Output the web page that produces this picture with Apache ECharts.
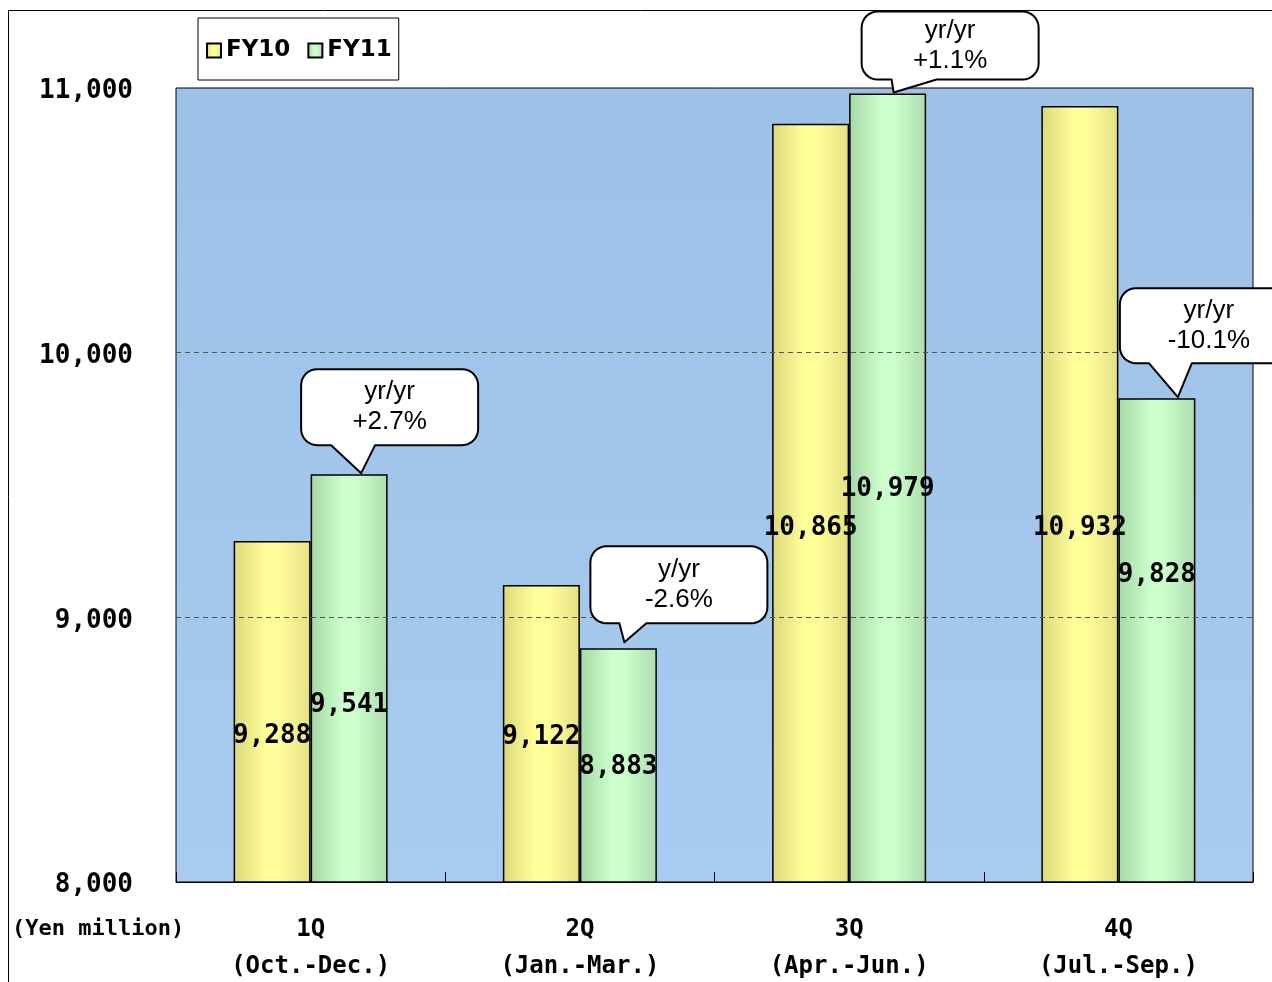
<!DOCTYPE html>
<html>
<head>
<meta charset="utf-8">
<script src="https://cdn.jsdelivr.net/npm/echarts@6/dist/echarts.min.js"></script>
<style>
  html, body { margin: 0; padding: 0; background: #fff; }
  #chart { width: 1272px; height: 982px; }
</style>
</head>
<body>
<div id="chart"></div>
<script>
// Quarterly net sales, FY10 vs FY11 (Yen million)
const categories = ['1Q\n(Oct.-Dec.)', '2Q\n(Jan.-Mar.)', '3Q\n(Apr.-Jun.)', '4Q\n(Jul.-Sep.)'];
const seriesNames = ['FY10', 'FY11'];
const fy10 = [9288, 9122, 10865, 10932];
const fy11 = [9541, 8883, 10979, 9828];
const yoyNotes = ['yr/yr\n+2.7%', 'y/yr\n-2.6%', 'yr/yr\n+1.1%', 'yr/yr\n-10.1%'];
const yMin = 8000, yMax = 11000, yStep = 1000;
const guideValues = [9000, 10000];

// Layout: axis level at which each value label sits
const fy10LabelLevel = [8555, 8548, 9341, 9341];
const fy11LabelLevel = [8672, 8438, 9488, 9163];

// Layout: callout boxes relative to the top centre of each FY11 bar
// [boxDx, boxDy, width, height, tailFrom, tailTo, tipDx, tipDy]
const calloutLayout = [
  [-48, -105, 177, 76, -18, 26, 12, -1],
  [-28, -102, 177, 77, 1, 28, 6, -6],
  [-26, -82, 177, 68, 4, 49, 6, -1],
  [-37, -110, 178, 75, -8, 35, 21, -1]
];

const grid = { left: 176, top: 88, right: 19, bottom: 100 };
const plotH = 982 - grid.top - grid.bottom;
const barW = 77;

function rise(level) {
  return (level - yMin) * plotH / (yMax - yMin);
}

function barGradient(edgeL, mid, edgeR) {
  return {
    type: 'linear', x: 0, y: 0, x2: 1, y2: 0,
    colorStops: [
      { offset: 0, color: edgeL },
      { offset: 0.42, color: mid },
      { offset: 0.58, color: mid },
      { offset: 1, color: edgeR }
    ]
  };
}

function withLabels(values, levels) {
  return values.map((v, i) => ({
    value: v,
    label: { offset: [0, -rise(levels[i])] }
  }));
}

const valueLabel = {
  show: true,
  position: 'insideBottom',
  distance: 0,
  verticalAlign: 'middle',
  color: '#000',
  fontFamily: 'DejaVu Sans Mono',
  fontWeight: 'bold',
  fontSize: 26,
  formatter: p => p.value.toLocaleString('en-US')
};

const chart = echarts.init(document.getElementById('chart'), null, { renderer: 'canvas' });

const option = {
  animation: false,
  backgroundColor: '#fff',
  grid: {
    left: grid.left, top: grid.top, right: grid.right, bottom: grid.bottom,
    outerBoundsMode: 'none',
    containLabel: false,
    show: true,
    borderColor: '#000',
    borderWidth: 1,
    backgroundColor: {
      type: 'linear', x: 0, y: 0, x2: 0, y2: 1,
      colorStops: [
        { offset: 0, color: '#9dc0e6' },
        { offset: 1, color: '#a8cbf0' }
      ]
    }
  },
  legend: {
    left: 198, top: 18,
    orient: 'horizontal',
    backgroundColor: '#fff',
    borderColor: '#000',
    borderWidth: 1,
    padding: [21, 7, 18, 8],
    itemWidth: 14, itemHeight: 14,
    itemGap: 17,
    icon: 'rect',
    data: seriesNames,
    textStyle: { fontFamily: 'DejaVu Sans', fontWeight: 'bold', fontSize: 23, color: '#000' }
  },
  xAxis: {
    type: 'category',
    data: categories,
    boundaryGap: true,
    axisLine: { show: true, lineStyle: { color: '#000', width: 1 } },
    axisTick: { show: true, inside: true, length: 10, lineStyle: { color: '#000' } },
    axisLabel: {
      margin: 29,
      color: '#000',
      fontFamily: 'DejaVu Sans Mono',
      fontWeight: 'bold',
      fontSize: 24,
      lineHeight: 37
    },
    splitLine: { show: false }
  },
  yAxis: {
    type: 'value',
    min: yMin, max: yMax, interval: yStep,
    axisLine: { show: false },
    axisTick: { show: false },
    splitLine: { show: false },
    axisLabel: {
      margin: 43,
      color: '#000',
      formatter: v => '{t|' + v.toLocaleString('en-US') + '}',
      rich: {
        t: {
          fontFamily: 'DejaVu Sans Mono',
          fontWeight: 'bold',
          fontSize: 26,
          color: '#000',
          padding: [7, 0, 0, 0]
        }
      }
    }
  },
  series: [
    {
      name: 'guides',
      type: 'line',
      z: 1,
      data: [],
      silent: true,
      markLine: {
        silent: true,
        symbol: 'none',
        label: { show: false },
        lineStyle: { type: [5, 4], color: '#555', width: 1 },
        data: guideValues.map(v => ({ yAxis: v }))
      }
    },
    {
      name: seriesNames[0],
      type: 'bar',
      z: 2,
      barWidth: barW,
      barGap: '0%',
      data: withLabels(fy10, fy10LabelLevel),
      itemStyle: {
        color: barGradient('#dcd87c', '#ffff99', '#e4e085'),
        borderColor: '#000',
        borderWidth: 1.5
      },
      label: valueLabel
    },
    {
      name: seriesNames[1],
      type: 'bar',
      z: 2,
      barWidth: barW,
      barGap: '0%',
      data: withLabels(fy11, fy11LabelLevel),
      itemStyle: {
        color: barGradient('#a6d8a6', '#ccffcc', '#aedcae'),
        borderColor: '#000',
        borderWidth: 1.5
      },
      label: valueLabel
    }
  ]
};

chart.setOption(option);

// Speech-bubble outline: rounded box with a tail from its bottom edge
function bubblePoints(L, T, W, H, b1, b2, tx, ty) {
  const r = 16, R = L + W, B = T + H, steps = 8;
  const pts = [];
  function arc(cx, cy, a0, a1) {
    for (let k = 0; k <= steps; k++) {
      const a = a0 + (a1 - a0) * k / steps;
      pts.push([cx + r * Math.cos(a), cy + r * Math.sin(a)]);
    }
  }
  arc(L + r, T + r, Math.PI, Math.PI * 1.5);      // top-left
  arc(R - r, T + r, Math.PI * 1.5, Math.PI * 2);  // top-right
  arc(R - r, B - r, 0, Math.PI * 0.5);            // bottom-right
  pts.push([b2, B], [tx, ty], [b1, B]);           // tail
  arc(L + r, B - r, Math.PI * 0.5, Math.PI);      // bottom-left
  return pts;
}

const graphics = [
  {
    type: 'rect',
    silent: true,
    shape: { x: 8.5, y: 10.5, width: 1400, height: 1100 },
    style: { fill: 'transparent', stroke: '#000', lineWidth: 1 },
    z: 0
  },
  {
    type: 'text',
    silent: true,
    x: 12, y: 929,
    style: {
      text: '(Yen million)',
      font: 'bold 22px "DejaVu Sans Mono"',
      fill: '#000',
      textAlign: 'left', align: 'left',
      textVerticalAlign: 'middle', verticalAlign: 'middle'
    },
    z: 10
  }
];

fy11.forEach((v, i) => {
  const p = chart.convertToPixel({ xAxisIndex: 0, yAxisIndex: 0 }, [i, v]);
  const ax = p[0] + barW / 2;
  const ay = p[1];
  const c = calloutLayout[i];
  const L = ax + c[0], T = ay + c[1], W = c[2], H = c[3];
  graphics.push({
    type: 'polygon',
    silent: true,
    shape: { points: bubblePoints(L, T, W, H, ax + c[4], ax + c[5], ax + c[6], ay + c[7]) },
    style: { fill: '#fff', stroke: '#000', lineWidth: 2, lineJoin: 'round' },
    z: 20
  });
  graphics.push({
    type: 'text',
    silent: true,
    x: L + W / 2, y: T + H / 2,
    style: {
      text: yoyNotes[i],
      font: '26px "Liberation Sans"',
      fill: '#000',
      lineHeight: 30,
      textAlign: 'center', align: 'center',
      textVerticalAlign: 'middle', verticalAlign: 'middle'
    },
    z: 21
  });
});

chart.setOption({ graphic: { elements: graphics } });
</script>
</body>
</html>
